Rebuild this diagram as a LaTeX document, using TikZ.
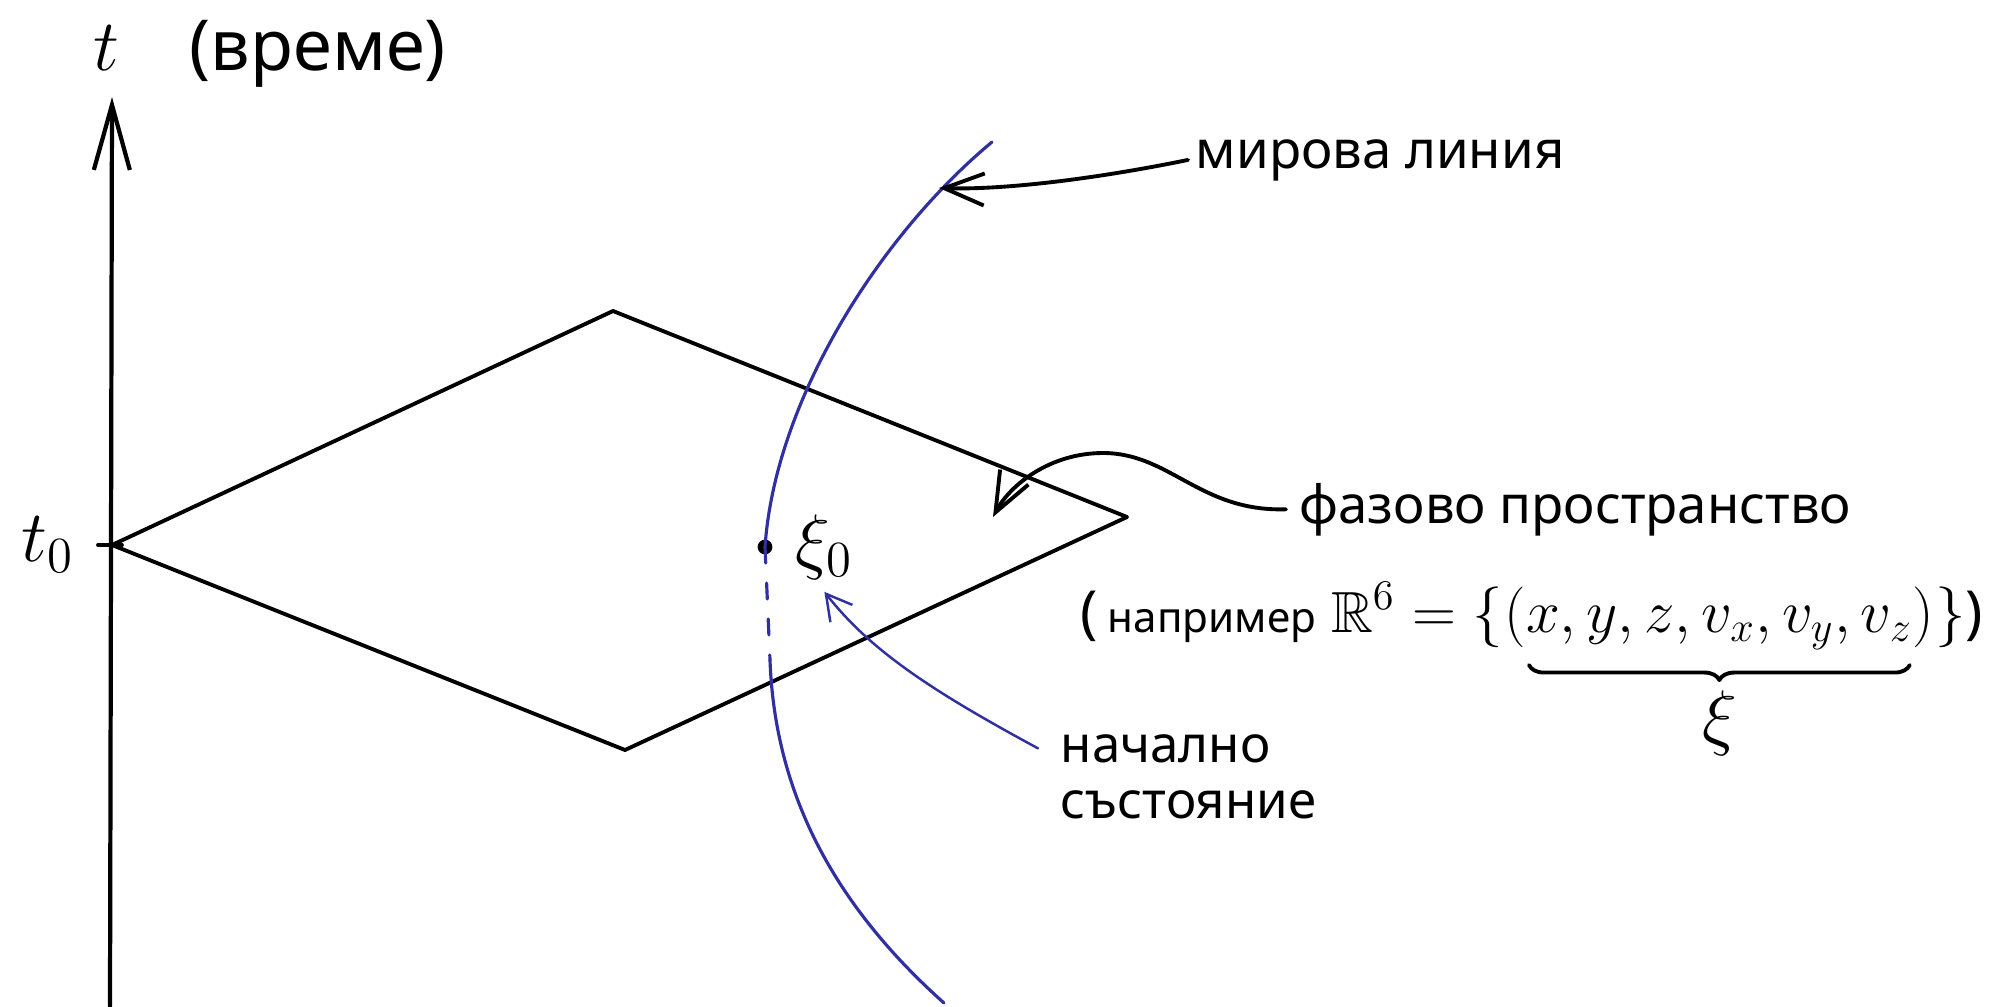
\documentclass[tikz,border=0pt]{standalone}
\usepackage{amsmath,amssymb}
\usepackage{fontspec}
\setmainfont{Noto Sans}
\usepackage{tikz}
\usetikzlibrary{positioning,arrows.meta,calc,decorations.pathreplacing}
\definecolor{wlBlue}{RGB}{48,48,160}

\begin{document}
\begin{tikzpicture}[
    x=0.01cm, y=-0.01cm,
    line cap=round, line join=round,
    axis/.style={line width=1.2pt, -{Straight Barb[length=6.5mm,width=3.6mm]}},
    plane/.style={line width=1.1pt},
    worldline/.style={wlBlue, line width=0.9pt},
    pointer/.style={line width=1.1pt, -{Straight Barb[length=4mm,width=3.2mm]}},
    bluepointer/.style={wlBlue, line width=0.7pt, -{Straight Barb[length=2.5mm,width=2.8mm]}},
    note/.style={font=\fontsize{15}{18}\selectfont, inner sep=2pt},
    formula/.style={font=\fontsize{16.5}{19}\selectfont, inner sep=0pt},
    dotnode/.style={circle, fill, inner sep=0pt, minimum size=4.2pt},
    xibrace/.style={decorate, decoration={brace, mirror, amplitude=1.5mm}, line width=1.1pt}
]
  \useasboundingbox (0,0) rectangle (2001,1006);

  % time axis
  \coordinate (axbot) at (110,1006);
  \coordinate (axtop) at (112,97);
  \coordinate (tzero) at (112,545);
  \draw[axis] (axbot) -- (axtop);
  \node[font=\fontsize{20}{24}\selectfont, inner sep=2pt, anchor=base west] (tlbl) at (86,70) {$t$\quad(време)};
  \draw[plane] ([xshift=-1.4mm]tzero) -- ([xshift=1mm]tzero);
  \node[font=\fontsize{20}{24}\selectfont, inner sep=2pt, left=0.3cm of tzero] (t0lbl) {$t_0$};

  % phase space plane
  \coordinate (ptop) at (613,311);
  \coordinate (pright) at (1127,517);
  \coordinate (pbot) at (625,750);
  \draw[plane] (tzero) -- (ptop) -- (pright) -- (pbot) -- cycle;

  % world line
  \coordinate (wltop) at (992,142);
  \coordinate (wlhit) at (939,188);
  \coordinate (wlfront) at (770,660);
  \coordinate (wlbot) at (944,1003);
  \node[dotnode] (xi0dot) at (765,547) {};
  \draw[worldline] (wltop) .. controls (880,235) and (775,400) .. (xi0dot.center);
  \draw[worldline, dash pattern=on 1.6mm off 2mm] (xi0dot.center) -- (wlfront);
  \draw[worldline] (wlfront) .. controls (775,800) and (840,910) .. (wlbot);
  \node[font=\fontsize{20}{22}\selectfont, right=0.1cm of xi0dot] (xi0) {$\xi_0$};

  % labels
  \node[note, anchor=base west] (worldlbl) at (1188,168) {мирова линия};
  \draw[pointer] (worldlbl.west) .. controls (1090,180) and (1000,190) .. (wlhit);

  \node[note, anchor=base west] (phaselbl) at (1292,523) {фазово пространство};
  \coordinate (phasehit) at (993,517);
  \draw[pointer] ([xshift=-0.6mm]phaselbl.west) .. controls (1200,512) and (1170,453) .. (1103,453)
    .. controls (1050,453) and (1010,485) .. (phasehit);

  \node[formula, anchor=base west] (egA) at (1080,632) {(\,{\fontsize{12}{14}\selectfont например}\ $\mathbb{R}^6 = \{$};
  \node[formula, anchor=base west] (tuple) at (egA.base east) {$(x, y, z, v_x, v_y, v_z)$};
  \node[formula, anchor=base west] (egB) at (tuple.base east) {$\}$)};
  \draw[xibrace] ([xshift=2.5mm, yshift=-1.5mm]tuple.south west) -- coordinate[midway] (bracemid) ([xshift=-2.5mm, yshift=-1.5mm]tuple.south east);
  \node[font=\fontsize{20}{22}\selectfont, inner sep=0pt, below=2.5mm of bracemid] (xi) {$\xi$};

  \node[note, font=\fontsize{14.5}{17}\selectfont, anchor=base west] (initA) at (1053,762) {начално};
  \node[note, font=\fontsize{14.5}{17}\selectfont, anchor=base west] (initB) at ($(initA.base west)+(0,56)$) {състояние};
  \draw[bluepointer] ([xshift=-1.5mm]initA.west) .. controls (930,690) and (870,650) .. (xi0.south);
\end{tikzpicture}
\end{document}
